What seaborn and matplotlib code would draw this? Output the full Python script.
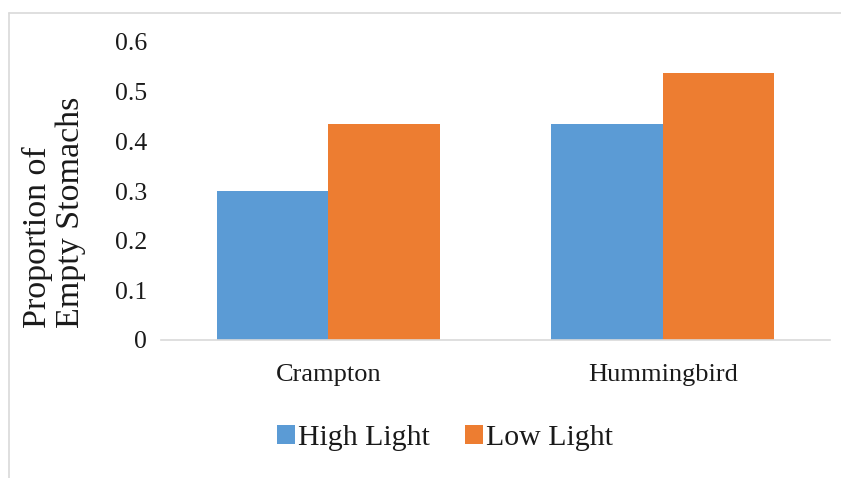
import matplotlib
matplotlib.use("Agg")
import matplotlib.pyplot as plt
import seaborn as sns
import pandas as pd
from matplotlib.lines import Line2D
from matplotlib.patches import Patch

sites = ["Crampton", "Hummingbird"]
light_levels = ["High Light", "Low Light"]
high_light = [0.30, 0.435]
low_light = [0.435, 0.537]
yticks = [0, 0.1, 0.2, 0.3, 0.4, 0.5, 0.6]
ytick_labels = ["0", "0.1", "0.2", "0.3", "0.4", "0.5", "0.6"]

df = pd.DataFrame({
    "Site": sites * 2,
    "Light": [light_levels[0]] * 2 + [light_levels[1]] * 2,
    "Proportion": high_light + low_light,
})

sns.set_theme(style="white")
plt.rcParams["font.family"] = ["Liberation Serif", "DejaVu Serif"]

colors = ["#5B9BD5", "#ED7D31"]

fig = plt.figure(figsize=(8.41, 4.78), dpi=100)
ax = fig.add_axes([161 / 841, 1 - 340 / 478, 669 / 841, 298 / 478])

sns.barplot(data=df, x="Site", y="Proportion", hue="Light", hue_order=light_levels,
            palette=colors, width=0.667, saturation=1, ax=ax, legend=False,
            edgecolor="none", linewidth=0)

ax.set_xlim(-0.5, 1.5)
ax.set_ylim(0, 0.6)
ax.set_yticks(yticks)
ax.set_yticklabels(ytick_labels)
ax.tick_params(axis="y", length=0, pad=10, labelsize=18.5, labelcolor="#1a1a1a")
ax.tick_params(axis="x", length=0, pad=17, labelsize=19, labelcolor="#1a1a1a")
ax.set_xlabel("")
ax.set_ylabel("")
for side in ["left", "right", "top"]:
    ax.spines[side].set_visible(False)
ax.spines["bottom"].set_color("#D9D9D9")
ax.spines["bottom"].set_linewidth(1.2)

fig.text(54 / 841, 1 - 212 / 478, "Proportion of\nEmpty Stomachs", rotation=90,
         ha="center", va="center", multialignment="left", fontsize=24.5,
         color="#1a1a1a", linespacing=1.08)

handles = [Patch(facecolor=c, edgecolor="none") for c in colors]
fig.legend(handles, light_levels, loc="center", bbox_to_anchor=(445 / 841, 1 - 438 / 478),
           ncol=2, frameon=False, fontsize=21.5, handlelength=0.6, handleheight=0.6,
           handletextpad=0.1, columnspacing=1.2, labelcolor="#1a1a1a")

# outer chart frame
fig.add_artist(Line2D([8.5 / 841, 8.5 / 841], [0, 1 - 12.5 / 478],
                      transform=fig.transFigure, color="#D9D9D9", lw=1.2))
fig.add_artist(Line2D([8.5 / 841, 1], [1 - 12.5 / 478, 1 - 12.5 / 478],
                      transform=fig.transFigure, color="#D9D9D9", lw=1.2))

fig.savefig("out.png", dpi=100, facecolor="white")
